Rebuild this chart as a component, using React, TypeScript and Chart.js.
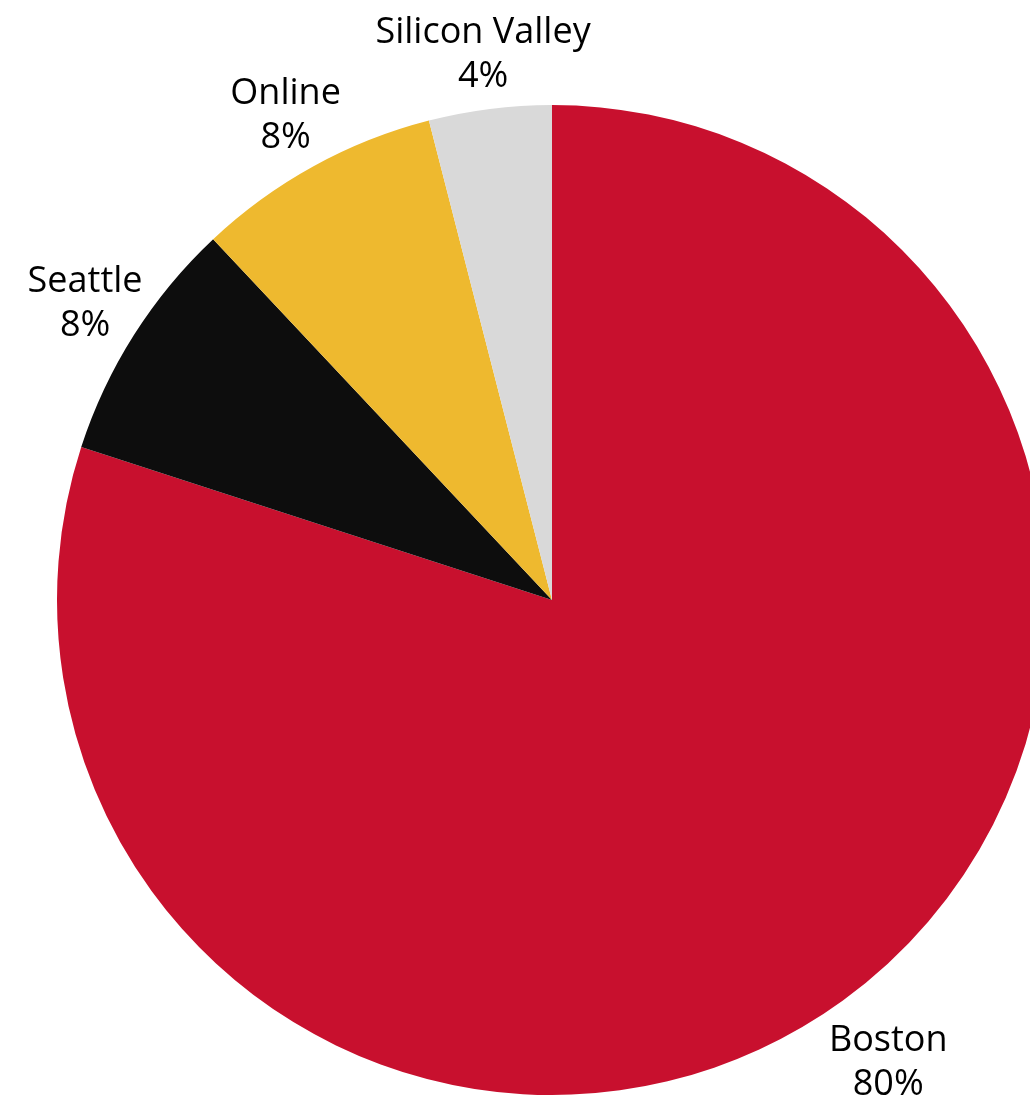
import React, { useEffect, useRef } from "react";
import { Chart, registerables } from "chart.js";

Chart.register(...registerables);

const categories = ["Boston", "Seattle", "Online", "Silicon Valley"];
const shares = [80, 8, 8, 4];
const valueLabels = ["80%", "8%", "8%", "4%"];
const colors = ["#C8102E", "#0D0D0D", "#EEB92F", "#D9D9D9"];
const labelOffsets = [77, 58, 58, 55];

const labelPlugin = {
  id: "outsideLabels",
  afterDraw(chart: any) {
    const ctx = chart.ctx;
    const meta = chart.getDatasetMeta(0);
    ctx.save();
    ctx.font = '36px "Open Sans", Inter, sans-serif';
    ctx.fillStyle = "#000000";
    ctx.textAlign = "center";
    ctx.textBaseline = "middle";
    meta.data.forEach((arc: any, i: number) => {
      const { x, y, startAngle, endAngle, outerRadius } = arc.getProps(
        ["x", "y", "startAngle", "endAngle", "outerRadius"],
        true
      );
      const mid = (startAngle + endAngle) / 2;
      const d = outerRadius + labelOffsets[i];
      const lx = x + Math.cos(mid) * d;
      const ly = y + Math.sin(mid) * d;
      ctx.fillText(categories[i], lx, ly - 22);
      ctx.fillText(valueLabels[i], lx, ly + 22);
    });
    ctx.restore();
  },
};

export default function App() {
  const ref = useRef<HTMLCanvasElement>(null);
  useEffect(() => {
    if (!ref.current) return;
    const chart = new Chart(ref.current, {
      type: "pie",
      data: {
        labels: categories,
        datasets: [
          {
            data: shares,
            backgroundColor: colors,
            borderWidth: 0,
          },
        ],
      },
      options: {
        responsive: false,
        animation: false,
        rotation: 0,
        layout: { padding: { top: 105, bottom: 3, left: 57, right: 57 } },
        plugins: {
          legend: { display: false },
          tooltip: { enabled: false },
        },
      },
      plugins: [labelPlugin],
    });
    return () => chart.destroy();
  }, []);
  return (
    <div
      style={{
        position: "fixed",
        left: 0,
        top: 0,
        width: 1030,
        height: 1098,
        overflow: "hidden",
        background: "#ffffff",
      }}
    >
      <canvas ref={ref} width={1104} height={1098} style={{ display: "block" }} />
    </div>
  );
}
